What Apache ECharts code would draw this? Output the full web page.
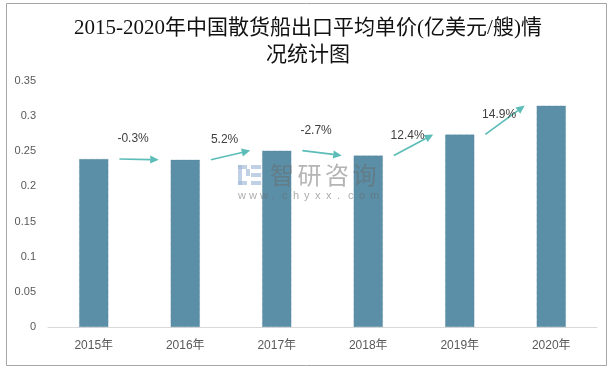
<!DOCTYPE html>
<html><head><meta charset="utf-8">
<script src="https://cdn.jsdelivr.net/npm/echarts@6/dist/echarts.min.js"></script>
<style>html,body{margin:0;padding:0;background:#fff}#c{width:616px;height:369px}</style>
</head><body><div id="c"></div>
<script>
// ---- data ----
const categories = ['2015年', '2016年', '2017年', '2018年', '2019年', '2020年'];
const prices = [0.239, 0.238, 0.251, 0.244, 0.274, 0.315];
const growthLabels = ['-0.3%', '5.2%', '-2.7%', '12.4%', '14.9%'];
const titleText = '2015-2020年中国散货船出口平均单价(亿美元/艘)情\n况统计图';
const wmName = '智研咨询';
const wmUrl = 'www.chyxx.com';

// ---- chart ----
const chart = echarts.init(document.getElementById('c'), null, { renderer: 'canvas' });
const arrowData = growthLabels.map((g, i) => [i, prices[i], prices[i + 1]]);
const ARROW = '#5cbdb8';
const FONT = '"Liberation Sans","Noto Sans CJK SC",sans-serif';

const wm = [];
const logoFill = 'rgba(160,185,215,0.65)';
[[238, 165, 9, 4], [238, 165, 4, 9], [246, 169, 4, 7], [238, 174, 4, 11], [238, 181, 9, 4],
 [251, 165, 10, 4], [251, 173, 10, 4], [251, 181, 10, 4]].forEach(r => {
  wm.push({ type: 'rect', zlevel: 1, z: 100, shape: { x: r[0], y: r[1], width: r[2], height: r[3] }, style: { fill: logoFill } });
});
wmName.split('').forEach((ch, k) => {
  wm.push({ type: 'text', zlevel: 1, z: 100, x: 270 + k * 27.5, y: 163,
    style: { text: ch, fontSize: 24, fill: 'rgba(105,105,105,0.5)', fontFamily: '"Noto Sans CJK SC",sans-serif' } });
});
wmUrl.split('').forEach((ch, k) => {
  wm.push({ type: 'text', zlevel: 1, z: 100, x: 238 + k * 11, y: 190,
    style: { text: ch, fontSize: 11, fill: 'rgba(105,105,105,0.55)', fontFamily: FONT } });
});

const option = {
  animation: false,
  backgroundColor: '#fff',
  title: {
    text: titleText, left: 'center', top: 10,
    textStyle: { fontSize: 21, fontWeight: 'normal', color: '#111', lineHeight: 27,
      fontFamily: '"Liberation Serif","Noto Sans CJK SC",serif' }
  },
  grid: { left: 48, right: 19, top: 81, bottom: 42 },
  xAxis: {
    type: 'category', data: categories,
    axisLine: { lineStyle: { color: '#d9d9d9', width: 1 } },
    axisTick: { show: false },
    axisLabel: { color: '#595959', fontSize: 12, margin: 13, fontFamily: FONT }
  },
  yAxis: {
    type: 'value', min: 0, max: 0.35, interval: 0.05,
    axisLine: { show: false }, axisTick: { show: false }, splitLine: { show: false },
    axisLabel: { color: '#595959', fontSize: 11, margin: 12, fontFamily: FONT,
      formatter: v => String(+v.toFixed(2)) }
  },
  graphic: [
    { type: 'rect', z: 0, shape: { x: 6.5, y: 3.5, width: 600, height: 362 },
      style: { fill: 'none', stroke: '#a6a6a6', lineWidth: 1 } }
  ].concat(wm),
  series: [
    {
      type: 'bar', data: prices, barWidth: '32%',
      itemStyle: { color: '#5b8fa7', borderColor: '#4f8299', borderWidth: 0.6, borderType: 'dotted' }
    },
    {
      type: 'custom', data: arrowData, z: 5, clip: false,
      renderItem: (params, api) => {
        const i = api.value(0);
        const band = api.size([1, 0])[0];
        const p0 = api.coord([i, api.value(1)]);
        const p1 = api.coord([i, api.value(2)]);
        const x0 = p0[0] + band * 0.28, y0 = p0[1];
        const x1 = p0[0] + band * 0.71, y1 = p1[1];
        const ang = Math.atan2(y1 - y0, x1 - x0);
        const L = 8.5, W = 4;
        const bx = x1 - L * Math.cos(ang), by = y1 - L * Math.sin(ang);
        const nx = -Math.sin(ang), ny = Math.cos(ang);
        return { type: 'group', children: [
          { type: 'line', shape: { x1: x0, y1: y0, x2: bx, y2: by },
            style: { stroke: ARROW, lineWidth: 1.7 } },
          { type: 'polygon', shape: { points: [[x1, y1], [bx + nx * W, by + ny * W], [bx - nx * W, by - ny * W]] },
            style: { fill: ARROW } },
          { type: 'text', x: p0[0] + band * 0.43, y: y0 - 20,
            style: { text: growthLabels[params.dataIndex], fill: '#404040', fontSize: 12,
              align: 'center', verticalAlign: 'middle', fontFamily: FONT } }
        ] };
      }
    }
  ]
};
chart.setOption(option);
</script>
</body></html>
